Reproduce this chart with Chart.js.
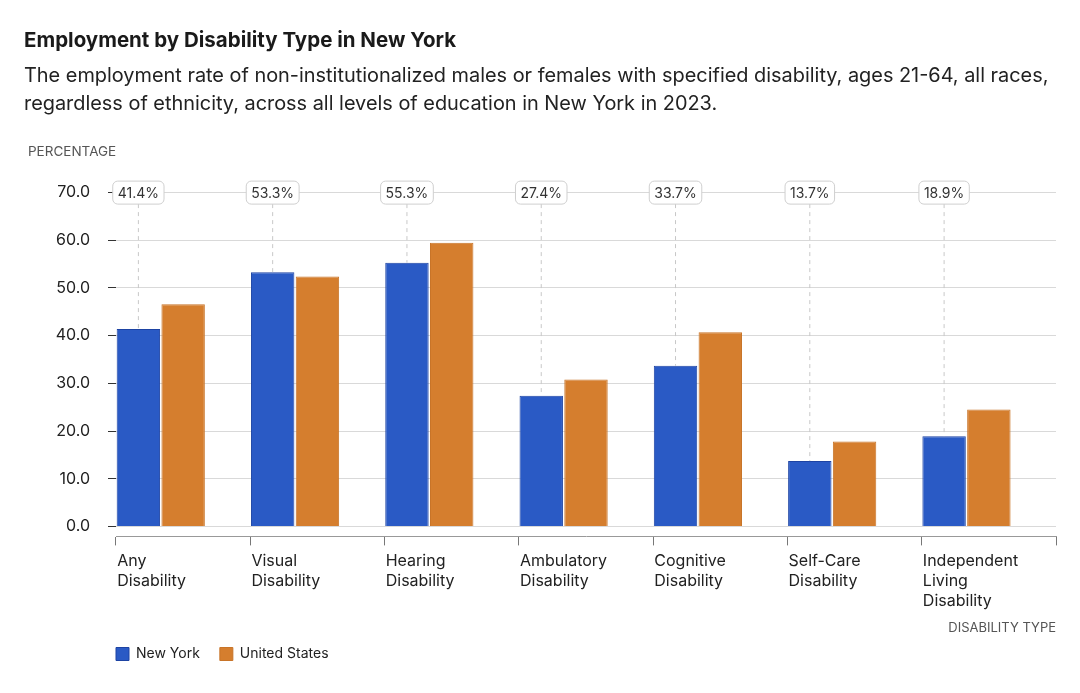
<!DOCTYPE html>
<html>
<head>
<meta charset="utf-8">
<script src="https://cdn.jsdelivr.net/npm/chart.js@4"></script>
<style>
  html, body { margin: 0; padding: 0; background: #fff; }
  #wrap { width: 1080px; height: 693px; }
</style>
</head>
<body>
<div id="wrap"><canvas id="chart"></canvas></div>
<script>
// Données
const categories = [
  ["Any", "Disability"],
  ["Visual", "Disability"],
  ["Hearing", "Disability"],
  ["Ambulatory", "Disability"],
  ["Cognitive", "Disability"],
  ["Self-Care", "Disability"],
  ["Independent", "Living", "Disability"],
];
const newYork = [41.4, 53.3, 55.3, 27.4, 33.7, 13.7, 18.9];
const unitedStates = [46.6, 52.4, 59.5, 30.8, 40.7, 17.8, 24.5];
const yTicks = [0, 10, 20, 30, 40, 50, 60, 70];

const FONT = "Inter, Roboto, sans-serif";
const BLUE = "#2a5ac5";
const ORANGE = "#d57e2e";

// Étiquettes encadrées + pointillés au-dessus des barres New York
const calloutPlugin = {
  id: "callouts",
  afterLayout(chart) {
    // aligner la légende sur le début de l'axe x
    const lg = chart.legend;
    const shift = chart.chartArea.left - lg.options.labels.padding - lg.left;
    lg.left += shift;
    lg.right += shift;
  },
  afterDatasetsDraw(chart) {
    const ctx = chart.ctx;
    const meta = chart.getDatasetMeta(0);
    const yTop = chart.scales.y.getPixelForValue(70);
    ctx.save();
    ctx.font = "14px " + FONT;
    meta.data.forEach((bar, i) => {
      const text = newYork[i].toFixed(1) + "%";
      const w = ctx.measureText(text).width + 10;
      const h = 23;
      const x = bar.x;
      // pointillés
      ctx.strokeStyle = "#c8c8c8";
      ctx.lineWidth = 1;
      ctx.setLineDash([4, 4]);
      ctx.beginPath();
      ctx.moveTo(x, yTop + h / 2);
      ctx.lineTo(x, bar.y);
      ctx.stroke();
      ctx.setLineDash([]);
      // boîte
      ctx.fillStyle = "#fff";
      ctx.strokeStyle = "#cfcfcf";
      ctx.beginPath();
      ctx.roundRect(x - w / 2, yTop - h / 2, w, h, 5);
      ctx.fill();
      ctx.stroke();
      ctx.fillStyle = "#333";
      ctx.textAlign = "center";
      ctx.textBaseline = "middle";
      ctx.fillText(text, x, yTop + 1);
    });
    // titre de l'axe y
    ctx.font = "13.5px " + FONT;
    ctx.fillStyle = "#555";
    ctx.textAlign = "left";
    ctx.textBaseline = "middle";
    ctx.fillText("PERCENTAGE", 28, 152);
    ctx.restore();
  },
};

const ctx = document.getElementById("chart").getContext("2d");
new Chart(ctx, {
  type: "bar",
  data: {
    labels: categories,
    datasets: [
      {
        label: "New York",
        data: newYork,
        backgroundColor: BLUE,
        borderColor: "#1d43a3",
        borderWidth: 1,
        barPercentage: 0.97,
        categoryPercentage: 1,
      },
      {
        label: "United States",
        data: unitedStates,
        backgroundColor: ORANGE,
        borderColor: "#c87428",
        borderWidth: 1,
        barPercentage: 0.97,
        categoryPercentage: 1,
      },
      {
        // emplacement vide pour caler les barres à gauche de chaque catégorie
        label: "",
        data: newYork.map(() => null),
        categoryPercentage: 1,
      },
    ],
  },
  options: {
    responsive: true,
    maintainAspectRatio: false,
    animation: false,
    layout: { padding: { left: 24, right: 24, top: 19, bottom: 22 } },
    plugins: {
      title: {
        display: true,
        text: "Employment by Disability Type in New York",
        align: "start",
        color: "#1a1a1a",
        font: { family: FONT, size: 20.5, weight: "bold" },
        padding: { top: 10, bottom: 8 },
      },
      subtitle: {
        display: true,
        text: [
          "The employment rate of non-institutionalized males or females with specified disability, ages 21-64, all races,",
          "regardless of ethnicity, across all levels of education in New York in 2023.",
        ],
        align: "start",
        color: "#222",
        font: { family: FONT, size: 19.9, lineHeight: 1.407 },
        padding: { top: 0, bottom: 75 },
      },
      legend: {
        position: "bottom",
        align: "start",
        labels: {
          color: "#222",
          font: { family: FONT, size: 14 },
          boxWidth: 13,
          boxHeight: 13,
          padding: 20,
          filter: (item) => item.text !== "",
        },
      },
      tooltip: { enabled: false },
    },
    scales: {
      x: {
        afterFit: (scale) => {
          scale.paddingLeft = 0;
          scale.paddingRight = 0;
        },
        grid: {
          offset: true,
          drawOnChartArea: false,
          tickLength: 9,
          tickColor: (c) => (c.index === categories.length ? "rgba(0,0,0,0)" : "#777"),
        },
        border: { color: "#999" },
        ticks: {
          color: "#222",
          font: { family: FONT, size: 16, lineHeight: 1.25 },
          align: "start",
          labelOffset: -66,
          padding: 6,
          maxRotation: 0,
        },
        title: {
          display: true,
          text: "DISABILITY TYPE",
          align: "end",
          color: "#555",
          font: { family: FONT, size: 13 },
          padding: { top: 3, bottom: -9 },
        },
      },
      y: {
        min: -2.1,
        max: 70,
        afterBuildTicks: (scale) => {
          scale.ticks = yTicks.map((v) => ({ value: v }));
        },
        afterFit: (scale) => {
          scale.width = 92;
        },
        grid: {
          color: "#d9d9d9",
          tickColor: "#333",
          tickLength: 8,
        },
        border: { display: false },
        ticks: {
          color: "#222",
          font: { family: FONT, size: 16 },
          padding: 18,
          callback: (v) => Number(v).toFixed(1),
        },
      },
    },
  },
  plugins: [calloutPlugin],
});
</script>
</body>
</html>
